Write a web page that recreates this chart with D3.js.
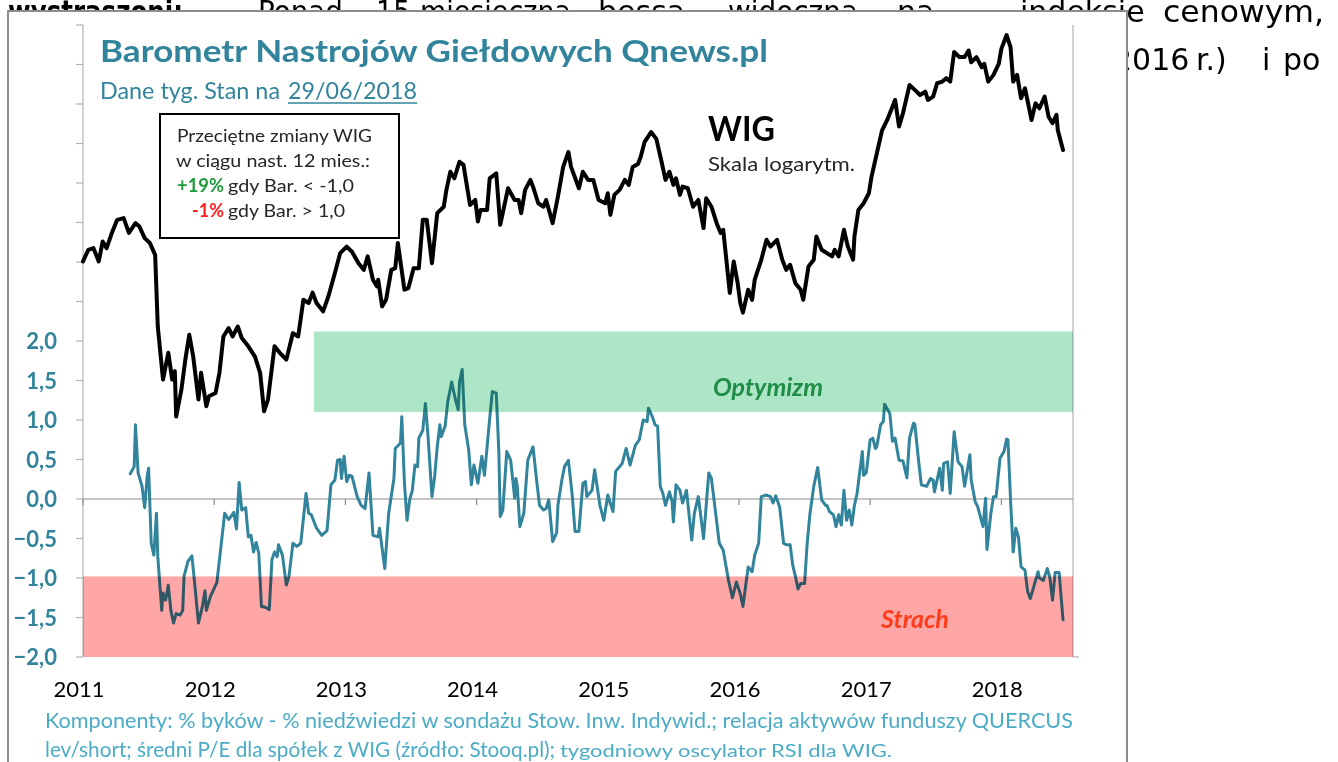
<!DOCTYPE html>
<html><head><meta charset="utf-8">
<script src="https://cdn.jsdelivr.net/npm/d3@7"></script>
<style>body{margin:0;background:#fff;overflow:hidden} svg{display:block}</style>
</head><body>
<svg id="c" width="1338" height="762"></svg>
<script>
// ---------- DATA ----------
// WIG index (weekly, log scale), dates as decimal years
const wigDates = [2011.00,2011.04,2011.08,2011.12,2011.15,2011.18,2011.22,2011.26,2011.31,2011.35,2011.40,2011.43,2011.47,2011.51,2011.55,2011.57,2011.61,2011.65,2011.68,2011.70,2011.71,2011.75,2011.78,2011.81,2011.84,2011.88,2011.90,2011.94,2011.96,2012.01,2012.04,2012.07,2012.11,2012.14,2012.18,2012.21,2012.26,2012.31,2012.35,2012.38,2012.41,2012.46,2012.50,2012.55,2012.60,2012.64,2012.68,2012.72,2012.75,2012.78,2012.83,2012.87,2012.92,2012.96,2013.01,2013.05,2013.10,2013.14,2013.17,2013.21,2013.24,2013.25,2013.28,2013.31,2013.35,2013.38,2013.40,2013.45,2013.48,2013.52,2013.56,2013.59,2013.62,2013.66,2013.70,2013.75,2013.77,2013.80,2013.83,2013.87,2013.90,2013.95,2013.99,2014.01,2014.03,2014.08,2014.10,2014.15,2014.18,2014.24,2014.29,2014.32,2014.34,2014.37,2014.41,2014.43,2014.47,2014.51,2014.53,2014.58,2014.62,2014.66,2014.70,2014.72,2014.78,2014.81,2014.85,2014.89,2014.93,2014.98,2015.00,2015.02,2015.05,2015.09,2015.13,2015.16,2015.19,2015.23,2015.25,2015.28,2015.33,2015.37,2015.41,2015.44,2015.47,2015.50,2015.52,2015.55,2015.57,2015.61,2015.65,2015.69,2015.73,2015.75,2015.79,2015.83,2015.86,2015.88,2015.93,2015.96,2015.99,2016.01,2016.03,2016.07,2016.10,2016.12,2016.17,2016.21,2016.24,2016.29,2016.33,2016.36,2016.39,2016.43,2016.47,2016.49,2016.53,2016.57,2016.59,2016.63,2016.71,2016.73,2016.76,2016.80,2016.83,2016.87,2016.88,2016.91,2016.95,2016.99,2017.01,2017.05,2017.09,2017.13,2017.16,2017.19,2017.22,2017.25,2017.30,2017.34,2017.38,2017.42,2017.44,2017.48,2017.51,2017.55,2017.58,2017.61,2017.64,2017.68,2017.72,2017.75,2017.77,2017.81,2017.85,2017.87,2017.90,2017.94,2017.98,2018.00,2018.04,2018.07,2018.09,2018.12,2018.15,2018.18,2018.23,2018.26,2018.29,2018.33,2018.36,2018.39,2018.42,2018.43,2018.47];
const wigValues = [46590,47490,47620,46590,48150,47620,48830,49890,50030,48830,49620,49350,48410,48020,47100,41860,38360,40090,38360,38890,36100,37730,39640,41290,39850,37120,38790,36710,37320,37520,38790,41180,41750,41180,41860,41070,40520,39850,38790,36410,37120,40520,40090,39640,41410,41180,43740,43510,44260,43510,42920,43980,45710,47230,47740,47340,46460,45950,46980,45210,44720,45210,43270,43740,45950,46080,48020,44470,44590,46080,46080,49890,49890,46460,50440,50980,52410,54000,53420,54900,54610,51130,51550,49750,50710,50710,53420,53860,49480,52550,51550,51550,50440,52410,53280,52690,51270,50980,51550,49620,51830,54430,55780,54430,52550,54000,53280,53280,51550,51270,52120,50300,51980,52410,53280,52840,54430,54700,55310,56690,57640,57000,54900,53280,54000,52840,53420,51980,52690,52550,50980,51550,49220,51690,50980,49620,48830,49080,44240,46590,44950,43510,42830,44470,43740,45210,46720,48280,47740,48280,46720,45950,46330,44950,44470,43740,46210,46720,48540,47490,46980,47490,46980,49080,47740,46720,48540,50710,51270,52120,53550,55620,57780,58800,59780,60770,58180,59450,62290,61780,61270,61600,60770,61100,62460,62630,62990,62630,65750,65210,65210,65920,64660,65210,64130,64490,62630,63330,64490,66100,67620,66300,62630,63330,60940,61950,58800,60430,59940,61100,59120,58490,59290,57840,55970];

// Barometr Nastrojów (weekly)
const barDates = [2011.36,2011.39,2011.40,2011.42,2011.45,2011.47,2011.49,2011.50,2011.52,2011.54,2011.56,2011.57,2011.60,2011.61,2011.63,2011.65,2011.67,2011.69,2011.71,2011.74,2011.76,2011.77,2011.80,2011.83,2011.85,2011.88,2011.91,2011.93,2011.94,2011.97,2012.02,2012.04,2012.08,2012.11,2012.15,2012.17,2012.19,2012.21,2012.24,2012.26,2012.28,2012.30,2012.32,2012.34,2012.36,2012.39,2012.42,2012.44,2012.46,2012.48,2012.49,2012.52,2012.55,2012.57,2012.60,2012.63,2012.66,2012.70,2012.72,2012.74,2012.78,2012.82,2012.86,2012.89,2012.92,2012.94,2012.96,2012.97,2012.99,2013.01,2013.03,2013.05,2013.09,2013.12,2013.15,2013.18,2013.21,2013.25,2013.26,2013.30,2013.33,2013.37,2013.38,2013.42,2013.43,2013.45,2013.47,2013.49,2013.51,2013.53,2013.55,2013.56,2013.59,2013.61,2013.63,2013.66,2013.68,2013.70,2013.72,2013.73,2013.76,2013.78,2013.81,2013.84,2013.86,2013.87,2013.89,2013.91,2013.94,2013.96,2013.98,2014.01,2014.04,2014.06,2014.10,2014.12,2014.15,2014.17,2014.18,2014.20,2014.23,2014.26,2014.29,2014.30,2014.31,2014.33,2014.36,2014.39,2014.43,2014.46,2014.48,2014.51,2014.53,2014.55,2014.58,2014.61,2014.62,2014.65,2014.67,2014.70,2014.73,2014.75,2014.78,2014.81,2014.83,2014.84,2014.88,2014.90,2014.94,2014.97,2015.00,2015.04,2015.06,2015.09,2015.11,2015.14,2015.17,2015.21,2015.24,2015.27,2015.30,2015.31,2015.34,2015.36,2015.38,2015.40,2015.42,2015.44,2015.47,2015.49,2015.50,2015.52,2015.55,2015.57,2015.60,2015.64,2015.66,2015.69,2015.73,2015.77,2015.79,2015.85,2015.88,2015.92,2015.95,2015.98,2016.01,2016.03,2016.07,2016.10,2016.12,2016.15,2016.17,2016.21,2016.24,2016.26,2016.28,2016.31,2016.34,2016.36,2016.39,2016.41,2016.43,2016.45,2016.47,2016.50,2016.52,2016.54,2016.57,2016.60,2016.63,2016.66,2016.67,2016.69,2016.72,2016.74,2016.76,2016.78,2016.80,2016.82,2016.84,2016.86,2016.88,2016.90,2016.94,2016.95,2016.97,2017.00,2017.02,2017.04,2017.05,2017.08,2017.10,2017.11,2017.14,2017.15,2017.17,2017.19,2017.22,2017.25,2017.28,2017.30,2017.33,2017.34,2017.37,2017.39,2017.43,2017.46,2017.48,2017.49,2017.53,2017.55,2017.56,2017.59,2017.61,2017.64,2017.67,2017.70,2017.72,2017.76,2017.77,2017.80,2017.82,2017.86,2017.88,2017.89,2017.92,2017.94,2017.96,2017.99,2018.02,2018.04,2018.05,2018.07,2018.09,2018.11,2018.13,2018.15,2018.18,2018.20,2018.22,2018.24,2018.28,2018.29,2018.32,2018.35,2018.37,2018.39,2018.41,2018.44,2018.47];
const barValues = [0.32,0.41,0.94,0.33,0.16,-0.11,0.30,0.39,-0.56,-0.71,-0.18,-0.73,-1.41,-1.19,-1.28,-1.09,-1.41,-1.57,-1.45,-1.47,-1.41,-0.98,-0.79,-0.72,-1.05,-1.57,-1.36,-1.16,-1.41,-1.24,-1.06,-0.77,-0.18,-0.26,-0.17,-0.38,0.21,-0.14,-0.11,-0.48,-0.46,-0.67,-0.55,-0.69,-1.36,-1.37,-1.40,-0.77,-0.67,-0.73,-0.58,-0.71,-1.09,-0.98,-0.56,-0.60,-0.56,0.07,-0.18,-0.20,-0.37,-0.46,-0.40,0.18,0.24,0.49,0.50,0.26,0.54,0.22,0.30,0.29,0.03,-0.08,-0.12,0.33,-0.46,-0.48,-0.37,-0.88,-0.18,0.26,0.64,0.71,1.04,0.20,-0.27,-0.01,0.11,0.43,0.41,0.77,0.87,1.21,0.79,0.03,0.28,0.66,0.94,0.79,0.92,1.23,1.48,1.25,1.13,1.48,1.64,0.94,0.62,0.18,0.43,0.20,0.54,0.30,1.02,1.36,1.34,0.58,-0.22,-0.14,0.60,0.49,0.01,0.26,0.16,-0.35,-0.18,0.49,0.66,0.20,-0.08,-0.14,-0.12,-0.01,-0.54,-0.43,-0.08,0.24,0.41,0.49,0.03,-0.41,-0.41,0.20,0.22,0.03,0.11,0.37,-0.08,-0.27,0.05,-0.16,0.35,0.41,0.45,0.64,0.43,0.68,0.75,1.00,0.98,1.15,1.04,0.94,0.92,0.16,0.07,-0.08,0.09,-0.03,-0.29,0.18,0.11,-0.05,0.11,-0.52,-0.18,0.03,-0.50,0.33,0.26,-0.56,-0.65,-1.03,-1.25,-1.05,-1.20,-1.36,-0.86,-0.92,-0.71,-0.56,0.03,0.05,0.03,-0.05,0.04,-0.10,-0.56,-0.58,-0.58,-0.84,-0.98,-1.14,-1.07,-1.07,-0.56,-0.20,0.16,0.40,-0.01,-0.08,-0.08,-0.16,-0.20,-0.35,-0.20,-0.33,0.11,-0.27,-0.14,-0.33,-0.08,0.07,0.60,0.30,0.33,0.75,0.77,0.64,0.66,0.94,0.98,1.20,1.11,1.08,0.73,0.77,0.49,0.48,0.27,0.77,0.96,0.95,0.47,0.18,0.16,0.26,0.24,0.09,0.39,0.11,0.45,0.47,0.07,0.85,0.47,0.41,0.16,0.56,0.24,-0.03,-0.10,-0.35,0.01,-0.64,-0.18,0.03,0.03,0.52,0.60,0.76,0.75,-0.01,-0.67,-0.37,-0.48,-0.86,-0.90,-1.17,-1.26,-1.15,-0.92,-1.00,-1.03,-0.88,-1.00,-1.28,-0.93,-0.93,-1.53];

const yTickValues = [2, 1.5, 1, 0.5, 0, -0.5, -1, -1.5, -2];
const yearTicks = [2011, 2012, 2013, 2014, 2015, 2016, 2017, 2018];
const optimismBand = {from: 2012.76, low: 1.10, high: 2.12};
const fearBand = {low: -2.0, high: -0.98};

// ---------- SCALES ----------
const svg = d3.select('#c');
const x = d3.scaleLinear().domain([2011, 2018.546]).range([83, 1073]);
const yB = d3.scaleLinear().domain([-2, 2]).range([657, 341]);
const yW = d3.scaleLog().domain([30000, 70000]).range([529, 14]);

const TEAL = '#31849b';
const CAL = "Lato, 'Open Sans', sans-serif";

function txt(g, x0, y0, s, o) {
  o = o || {};
  const t = g.append('text').attr('x', x0).attr('y', y0).text(s)
    .attr('font-family', o.family || CAL)
    .attr('font-size', o.size || 18)
    .attr('font-weight', o.weight || 'normal')
    .attr('font-style', o.style || 'normal')
    .attr('fill', o.fill || '#000')
    .attr('text-anchor', o.anchor || 'start');
  if (o.width) t.attr('textLength', o.width).attr('lengthAdjust', 'spacingAndGlyphs');
  return t;
}

// ---------- background page text (behind the chart image) ----------
const bg = svg.append('g');
const PF = "'DejaVu Sans', sans-serif";
[['wystraszoni:', 8, 175, 'bold'], ['Ponad', 258, 85], ['15-miesięczna', 376, 195], ['bessa,', 598], ['widoczna', 728, 130], ['na', 897], ['indeksie', 1020], ['cenowym,', 1163, 161]]
  .forEach(w => txt(bg, w[1], 22, w[0], {family: PF, size: 30, weight: w[3] || 'normal', fill: '#000', width: w[2]}));
[['2016', 1113], ['r.)', 1196], ['i', 1262], ['po', 1283]]
  .forEach(w => txt(bg, w[1], 70, w[0], {family: PF, size: 30, fill: '#000'}));

// ---------- chart frame ----------
svg.append('rect').attr('x', 8).attr('y', 11).attr('width', 1119).attr('height', 760)
  .attr('fill', '#fff').attr('stroke', '#8c8c8c').attr('stroke-width', 2);

const g = svg.append('g');

// axes lines
const axisCol = '#b3b3b3';
g.append('line').attr('x1', 83).attr('x2', 83).attr('y1', yB(6)).attr('y2', yB(-2)).attr('stroke', axisCol).attr('stroke-width', 1.2);
g.append('line').attr('x1', 1073).attr('x2', 1073).attr('y1', yB(6)).attr('y2', yB(-2)).attr('stroke', axisCol).attr('stroke-width', 1.2);
g.append('line').attr('x1', 1073).attr('x2', 1079).attr('y1', yB(-2)).attr('y2', yB(-2)).attr('stroke', axisCol).attr('stroke-width', 1.2);
d3.range(-2, 6.01, 0.5).forEach(v => {
  g.append('line').attr('x1', 76).attr('x2', 83).attr('y1', yB(v)).attr('y2', yB(v)).attr('stroke', axisCol).attr('stroke-width', 1.2);
});
// zero line with year ticks
g.append('line').attr('x1', 83).attr('x2', 1073).attr('y1', yB(0)).attr('y2', yB(0)).attr('stroke', '#8c8c8c').attr('stroke-width', 1.2);
yearTicks.forEach(yr => {
  g.append('line').attr('x1', x(yr)).attr('x2', x(yr)).attr('y1', yB(0)).attr('y2', yB(0) + 6).attr('stroke', '#8c8c8c').attr('stroke-width', 1.2);
});

// WIG line
const wig = wigDates.map((d, i) => [d, wigValues[i]]);
g.append('path').datum(wig)
  .attr('d', d3.line().x(d => x(d[0])).y(d => yW(d[1])))
  .attr('fill', 'none').attr('stroke', '#000').attr('stroke-width', 4)
  .attr('stroke-linejoin', 'round').attr('stroke-linecap', 'round');

// Barometer line
const bar = barDates.map((d, i) => [d, barValues[i]]);
g.append('path').datum(bar)
  .attr('d', d3.line().x(d => x(d[0])).y(d => yB(d[1])))
  .attr('fill', 'none').attr('stroke', TEAL).attr('stroke-width', 3)
  .attr('stroke-linejoin', 'round').attr('stroke-linecap', 'round');

// bands (multiplied over the line)
g.append('rect').attr('x', x(optimismBand.from)).attr('width', 1073 - x(optimismBand.from))
  .attr('y', yB(optimismBand.high)).attr('height', yB(optimismBand.low) - yB(optimismBand.high))
  .attr('fill', '#ade6c6').style('mix-blend-mode', 'multiply');
g.append('rect').attr('x', 83).attr('width', 990)
  .attr('y', yB(fearBand.high)).attr('height', yB(fearBand.low) - yB(fearBand.high))
  .attr('fill', '#ffa7a7').style('mix-blend-mode', 'multiply');

// y tick labels
yTickValues.forEach(v => {
  txt(g, 57, yB(v) + 8, d3.format('.1f')(v).replace('.', ',').replace('-0,0', '0,0'),
      {size: 22, weight: 'bold', fill: TEAL, anchor: 'end'});
});
// year labels
yearTicks.forEach(yr => txt(g, x(yr) - 4, 697, String(yr), {size: 22, fill: '#000', anchor: 'middle'}));

// band labels
txt(g, 768, 396, 'Optymizm', {size: 25, weight: 'bold', style: 'italic', fill: '#1e8c45', anchor: 'middle'});
txt(g, 915, 628, 'Strach', {size: 25, weight: 'bold', style: 'italic', fill: '#ff3b1a', anchor: 'middle'});

// titles
txt(g, 100, 62, 'Barometr Nastrojów Giełdowych Qnews.pl', {size: 31, weight: 'bold', fill: TEAL, width: 668});
txt(g, 100, 99, 'Dane tyg. Stan na', {size: 23, fill: TEAL, width: 180});
txt(g, 288, 99, '29/06/2018', {size: 23, fill: TEAL, width: 129});
g.append('line').attr('x1', 288).attr('x2', 417).attr('y1', 103).attr('y2', 103).attr('stroke', TEAL).attr('stroke-width', 1.5);

// info box
g.append('rect').attr('x', 160).attr('y', 114).attr('width', 239).attr('height', 124)
  .attr('fill', '#fff').attr('stroke', '#000').attr('stroke-width', 2);
txt(g, 177, 142, 'Przeciętne zmiany WIG', {size: 18, fill: '#262626', width: 195});
txt(g, 176, 167, 'w ciągu nast. 12 mies.:', {size: 18, fill: '#262626', width: 194});
txt(g, 177, 192, '+19%', {size: 18, weight: 'bold', fill: '#1e9a3c', width: 47});
txt(g, 228, 192, 'gdy Bar. < -1,0', {size: 18, fill: '#262626', width: 126});
txt(g, 192, 217, '-1%', {size: 18, weight: 'bold', fill: '#ff2020', width: 32});
txt(g, 228, 217, 'gdy Bar. > 1,0', {size: 18, fill: '#262626', width: 117});

// WIG label
txt(g, 708, 141, 'WIG', {size: 34, weight: 'bold', fill: '#000', width: 67});
txt(g, 708, 171, 'Skala logarytm.', {size: 19, fill: '#262626', width: 147});

// footer
txt(g, 45, 728, 'Komponenty: % byków - % niedźwiedzi w sondażu Stow. Inw. Indywid.; relacja aktywów funduszy QUERCUS', {size: 21, fill: '#4bacc6', width: 1028});
txt(g, 45, 757, 'lev/short; średni P/E dla spółek z WIG (źródło: Stooq.pl);', {size: 21, fill: '#4bacc6', width: 510});
txt(g, 560, 757, 'tygodniowy oscylator RSI dla WIG.', {size: 18, fill: '#4bacc6', width: 332});
</script>
</body></html>
